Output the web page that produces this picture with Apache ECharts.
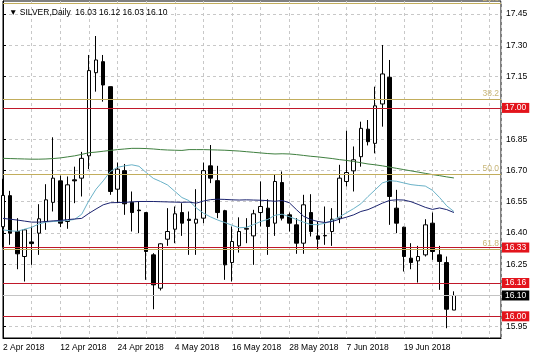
<!DOCTYPE html>
<html><head><meta charset="utf-8">
<script src="https://cdn.jsdelivr.net/npm/echarts@6/dist/echarts.min.js"></script>
<style>html,body{margin:0;padding:0;background:#fff}#c{width:536px;height:357px}</style>
</head><body><div id="c"></div>
<script>
const dates = ['2 Apr 2018','3 Apr 2018','4 Apr 2018','5 Apr 2018','6 Apr 2018','9 Apr 2018','10 Apr 2018','11 Apr 2018','12 Apr 2018','13 Apr 2018','16 Apr 2018','17 Apr 2018','18 Apr 2018','19 Apr 2018','20 Apr 2018','23 Apr 2018','24 Apr 2018','25 Apr 2018','26 Apr 2018','27 Apr 2018','30 Apr 2018',
'1 May 2018','2 May 2018','3 May 2018','4 May 2018','7 May 2018','8 May 2018','9 May 2018','10 May 2018','11 May 2018','14 May 2018','15 May 2018','16 May 2018','17 May 2018','18 May 2018','21 May 2018','22 May 2018','23 May 2018','24 May 2018','25 May 2018','28 May 2018','29 May 2018','30 May 2018','31 May 2018',
'1 Jun 2018','4 Jun 2018','5 Jun 2018','6 Jun 2018','7 Jun 2018','8 Jun 2018','11 Jun 2018','12 Jun 2018','13 Jun 2018','14 Jun 2018','15 Jun 2018','18 Jun 2018','19 Jun 2018','20 Jun 2018','21 Jun 2018','22 Jun 2018','25 Jun 2018','26 Jun 2018','27 Jun 2018','28 Jun 2018'];

const opens  = [16.43,16.579,16.407,16.287,16.357,16.399,16.455,16.547,16.650,16.455,16.655,16.663,16.770,
                17.169,17.222,17.102,16.610,16.699,16.547,16.510,16.498,16.295,16.135,16.370,16.418,16.498,
                16.466,16.447,16.471,16.722,16.651,16.507,16.258,16.338,16.418,16.386,16.498,16.519,16.447,
                16.642,16.487,16.439,16.351,16.498,16.386,16.386,16.407,16.471,16.647,16.698,16.766,16.898,
                16.830,17.019,17.147,16.519,16.428,16.279,16.266,16.295,16.447,16.295,16.258,16.03];
const closes = [16.58,16.399,16.300,16.415,16.349,16.468,16.559,16.663,16.447,16.631,16.650,16.758,17.179,
                17.230,17.110,16.599,16.706,16.540,16.498,16.507,16.311,16.151,16.348,16.407,16.492,16.447,
                16.460,16.466,16.699,16.663,16.498,16.247,16.359,16.407,16.422,16.492,16.527,16.431,16.647,
                16.471,16.447,16.351,16.535,16.407,16.370,16.388,16.466,16.663,16.690,16.751,16.902,16.838,
                17.010,17.163,16.575,16.447,16.287,16.258,16.287,16.439,16.311,16.263,16.034,16.10];
const highs  = [16.66,16.602,16.471,16.418,16.431,16.538,16.634,16.859,16.675,16.671,16.718,16.789,17.254,
                17.345,17.254,17.102,16.738,16.731,16.599,16.551,16.500,16.303,16.351,16.519,16.527,16.543,
                16.503,16.610,16.738,16.822,16.722,16.511,16.431,16.475,16.471,16.511,16.647,16.562,16.679,
                16.695,16.498,16.471,16.583,16.586,16.455,16.527,16.519,16.727,16.891,16.815,16.934,16.942,
                17.102,17.302,17.230,16.607,16.430,16.351,16.338,16.466,16.498,16.338,16.287,16.12];
const lows   = [16.33,16.343,16.226,16.167,16.247,16.295,16.415,16.503,16.428,16.420,16.543,16.575,16.706,
                17.078,17.030,16.583,16.543,16.487,16.407,16.399,16.175,16.034,16.124,16.338,16.351,16.386,
                16.295,16.295,16.447,16.639,16.471,16.175,16.167,16.306,16.351,16.247,16.431,16.295,16.386,
                16.460,16.407,16.300,16.300,16.383,16.319,16.343,16.338,16.447,16.623,16.599,16.718,16.820,
                16.782,16.910,16.439,16.399,16.215,16.226,16.162,16.287,16.271,16.127,15.943,16.03];

const maGreen = [16.758,16.757,16.756,16.755,16.754,16.754,16.755,16.757,16.760,16.765,16.770,16.777,16.785,
                 16.788,16.792,16.796,16.800,16.803,16.806,16.806,16.805,16.803,16.800,16.798,16.797,16.796,
                 16.800,16.800,16.800,16.799,16.798,16.797,16.795,16.793,16.790,16.787,16.784,16.781,16.779,
                 16.780,16.779,16.776,16.772,16.768,16.765,16.761,16.757,16.752,16.748,16.743,16.737,16.731,
                 16.727,16.722,16.716,16.710,16.704,16.698,16.692,16.686,16.680,16.675,16.669,16.664];
const maNavy  = [16.470,16.466,16.462,16.457,16.452,16.452,16.455,16.458,16.460,16.464,16.467,16.470,16.494,
                 16.515,16.535,16.545,16.546,16.547,16.549,16.551,16.551,16.551,16.550,16.549,16.548,16.547,
                 16.548,16.543,16.553,16.560,16.562,16.561,16.559,16.558,16.559,16.558,16.557,16.555,16.552,
                 16.556,16.545,16.512,16.480,16.464,16.455,16.450,16.455,16.466,16.476,16.487,16.503,16.512,
                 16.527,16.543,16.556,16.559,16.558,16.550,16.537,16.523,16.513,16.520,16.512,16.498];
const maBlue  = [16.415,16.410,16.408,16.418,16.427,16.443,16.452,16.455,16.457,16.460,16.465,16.490,16.555,
                 16.610,16.650,16.695,16.715,16.722,16.727,16.720,16.690,16.662,16.647,16.630,16.600,16.570,
                 16.555,16.520,16.495,16.477,16.462,16.450,16.437,16.425,16.427,16.440,16.455,16.465,16.485,
                 16.490,16.478,16.465,16.452,16.440,16.440,16.447,16.460,16.477,16.497,16.517,16.540,16.575,
                 16.607,16.640,16.651,16.648,16.640,16.632,16.628,16.625,16.605,16.570,16.530,16.503];

const yTicks = [15.95,16.10,16.25,16.40,16.55,16.70,16.85,17.00,17.15,17.30,17.45];
const redLevels = [17.00,16.33,16.16,16.00];
const fibLevels = [17.500,17.042,16.683,16.325];
const fibLabels = ['23.6','38.2','50.0','61.8'];
const lastPrice = 16.10;

const FONT = 'Liberation Sans';
const FS = 8.5;
const n = dates.length;
const candleData = dates.map((d,i)=>[i, opens[i], closes[i], lows[i], highs[i]]);
const lineData = arr => arr.map((v,i)=>[i,v]);
const last = n-1;
const header = '\u25BC SILVER,Daily  ' + [opens[last],highs[last],lows[last],closes[last]].map(v=>v.toFixed(2)).join(' ');

const markData = [];
fibLevels.forEach((v,k)=>markData.push({yAxis:v,
  lineStyle:{color:'#c2ad5c',width:1,type:'solid'},
  label:{show:true,position:'insideEndTop',formatter:fibLabels[k],color:'#c8b678',fontSize:FS,fontFamily:FONT,distance:[2,1]}}));
markData.push({yAxis:lastPrice,
  lineStyle:{color:'#c4c4c4',width:1,type:'solid'},
  label:{show:true,position:'end',formatter:lastPrice.toFixed(2),color:'#fff',backgroundColor:'#000',padding:[1,3,0,3],fontSize:FS,fontFamily:FONT,distance:1}});
redLevels.forEach(v=>markData.push({yAxis:v,
  lineStyle:{color:'#c0182a',width:1,type:'solid'},
  label:{show:true,position:'end',formatter:v.toFixed(2),color:'#fff',backgroundColor:'#e3141c',padding:[1,3,0,3],fontSize:FS,fontFamily:FONT,distance:1}}));

const chart = echarts.init(document.getElementById('c'), null, {renderer:'canvas'});
chart.setOption({
  animation:false,
  backgroundColor:'#fff',
  title:{text:header,left:4,top:3,textStyle:{fontSize:FS,fontWeight:'normal',color:'#000',fontFamily:FONT}},
  grid:{left:2.6,right:35,top:1,bottom:19,show:true,borderColor:'#000',borderWidth:1},
  xAxis:{type:'value',min:0,max:69.58,interval:4,
    axisLine:{show:true,lineStyle:{color:'#000'}},
    axisTick:{show:false},
    axisLabel:{color:'#000',fontSize:FS,fontFamily:FONT,align:'left',margin:5,showMaxLabel:false,
      formatter:v=>(Number.isInteger(v)&&v%8===0&&dates[v])?dates[v]:''},
    splitLine:{show:true,lineStyle:{color:'#c8c8c8',type:[3,3],width:1}}},
  yAxis:{type:'value',position:'right',min:15.896,max:17.513,scale:true,
    axisLine:{show:true,lineStyle:{color:'#000'}},
    axisTick:{show:true,length:3,customValues:yTicks,lineStyle:{color:'#000'}},
    axisLabel:{color:'#000',fontSize:FS,fontFamily:FONT,margin:5,customValues:yTicks,formatter:v=>v.toFixed(2)},
    splitLine:{show:true,lineStyle:{color:'#c8c8c8',type:[3,3],width:1}}},
  series:[
    {type:'candlestick',data:candleData,barWidth:4,
      itemStyle:{color:'#fff',color0:'#000',borderColor:'#000',borderColor0:'#000',borderWidth:1},
      markLine:{silent:true,symbol:'none',animation:false,data:markData}},
    {type:'line',data:lineData(maGreen),showSymbol:false,lineStyle:{color:'#3f7f3f',width:1}},
    {type:'line',data:lineData(maBlue),showSymbol:false,lineStyle:{color:'#6ab2c8',width:1}},
    {type:'line',data:lineData(maNavy),showSymbol:false,lineStyle:{color:'#1c2470',width:1}}
  ]
});
</script></body></html>
